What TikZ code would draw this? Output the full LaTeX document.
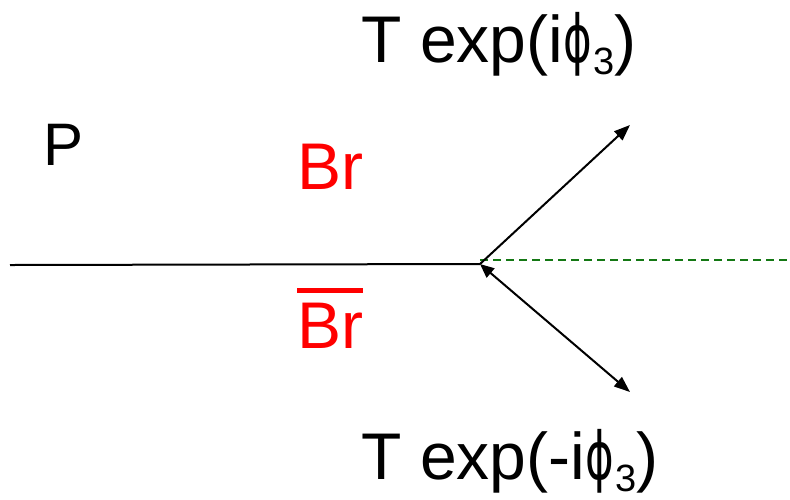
\documentclass[tikz,border=0pt]{standalone}
\usepackage{fontspec}
\setmainfont{Liberation Sans}
\newfontfamily\grk{DejaVu Sans}
\usepackage{graphicx}
\usepackage{xcolor}
\usetikzlibrary{arrows.meta}
\definecolor{ink}{RGB}{0,0,0}
\definecolor{brred}{RGB}{255,0,0}
\definecolor{phasegreen}{RGB}{20,120,20}
\tikzset{
  lbl/.style={font=\fontsize{33}{36}\selectfont, text=ink, inner sep=0pt},
  plbl/.style={font=\fontsize{30}{33}\selectfont, text=ink, inner sep=0pt},
  brlbl/.style={font=\fontsize{33}{36}\selectfont, text=brred, inner sep=0pt},
  beam/.style={line width=1pt, draw=ink},
  decay/.style={-{Triangle[length=8pt,width=6pt]}, line width=1pt, draw=ink},
  decay2/.style={{Triangle[length=7pt,width=6pt]}-{Triangle[length=8pt,width=6pt]}, line width=1pt, draw=ink},
  ref/.style={line width=1pt, draw=phasegreen, dash pattern=on 4pt off 2.5pt},
}
\newcommand{\phthree}{\scalebox{0.66}[1]{\grk\char"03D5}\kern1pt%
  \raisebox{-6pt}{\fontsize{19}{20}\selectfont 3}}
\newcommand{\brbar}{\vbox{\hrule height 2.5pt\kern5pt\hbox{Br}}}

\begin{document}
\begin{tikzpicture}[x=0.5pt, y=-0.5pt]
  \useasboundingbox (0,0) rectangle (790,499);
  % vertex and end points
  \coordinate (start) at (10,265);
  \coordinate (junc) at (480,264);
  \coordinate (up) at (630,125);
  \coordinate (down) at (630,392);
  \coordinate (refend) at (790,260);
  % labels
  \node[plbl, anchor=base west] (p) at (43,165) {P};
  \node[brlbl, anchor=base west] (br) at (297,189) {Br};
  \node[brlbl, anchor=base west] (brbar) at (297,348) {\brbar};
  \node[lbl, anchor=base west] (tup) at (361,62) {T exp(i\phthree)};
  \node[lbl, anchor=base west] (tdown) at (361,479) {T exp(-i\phthree)};
  % lines
  \draw[ref] (junc |- refend) -- (refend);
  \draw[beam] (start) -- (junc);
  \draw[decay] (junc) -- (up);
  \draw[decay2] (junc) -- (down);
\end{tikzpicture}
\end{document}
